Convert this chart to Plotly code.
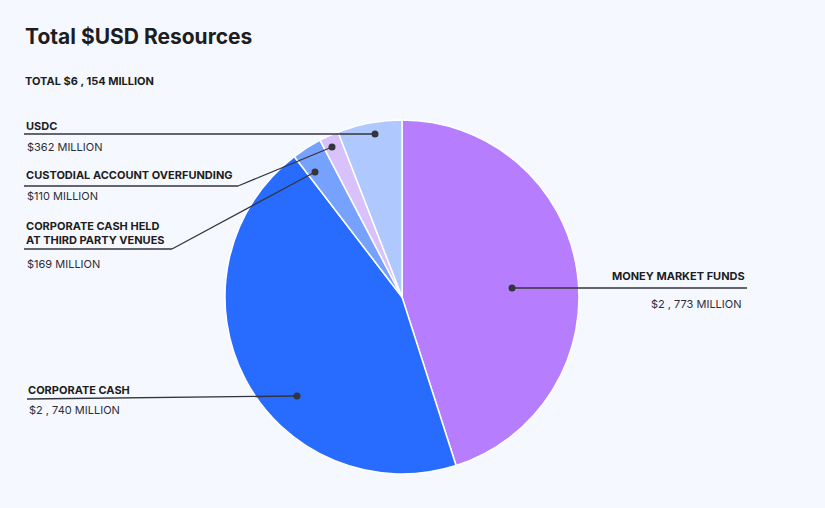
import plotly.graph_objects as go

# data (USD millions)
labels = ["Money Market Funds", "Corporate Cash", "Corporate Cash Held at Third Party Venues",
          "Custodial Account Overfunding", "USDC"]
values = [2773, 2740, 169, 110, 362]
colors = ["#b67dff", "#276bff", "#76a1fc", "#d9c2fb", "#afc8fd"]
label_text = ["MONEY MARKET FUNDS", "CORPORATE CASH", "CORPORATE CASH HELD<br>AT THIRD PARTY VENUES",
              "CUSTODIAL ACCOUNT OVERFUNDING", "USDC"]

W, H = 825, 508
BG = "#f5f8ff"
INK = "#1d1d22"
LINE = "#34343c"
FONT = "Inter, Noto Sans, sans-serif"


def px(x, y):
    # pixel -> paper coords (margins are zero)
    return x / W, 1 - y / H


def money(v):
    # the source spaces out the thousands comma
    return f"{v:,}".replace(",", " , ")


total = sum(values)

fig = go.Figure(go.Pie(
    labels=labels,
    values=values,
    sort=False,
    direction="clockwise",
    rotation=0,
    textinfo="none",
    hoverinfo="label+value+percent",
    marker=dict(colors=colors, line=dict(color="white", width=1.5)),
    domain=dict(x=[225 / W, 579 / W], y=[1 - 474 / H, 1 - 120 / H]),
    showlegend=False,
))

# leader line paths (pixels): label side -> dot on slice
leaders = {
    "USDC": [(24, 134), (375, 134)],
    "Custodial Account Overfunding": [(24, 186), (238, 186), (332, 147)],
    "Corporate Cash Held at Third Party Venues": [(24, 249), (172, 249), (315, 172)],
    "Corporate Cash": [(27, 399), (297, 396)],
    "Money Market Funds": [(747, 288), (512, 288)],
}

shapes = []
for name, pts in leaders.items():
    for (x0, y0), (x1, y1) in zip(pts[:-1], pts[1:]):
        a, b = px(x0, y0)
        c, d = px(x1, y1)
        shapes.append(dict(type="line", xref="paper", yref="paper", x0=a, y0=b, x1=c, y1=d,
                           line=dict(color=LINE, width=1.3)))
    dx, dy = pts[-1]
    r = 3.5
    a, b = px(dx - r, dy + r)
    c, d = px(dx + r, dy - r)
    shapes.append(dict(type="circle", xref="paper", yref="paper", x0=a, y0=b, x1=c, y1=d,
                       fillcolor=LINE, line=dict(color=LINE, width=0)))

# label positions: (name x, name y, value y, anchor)
label_pos = {
    "USDC": (24, 126, 147, "left"),
    "Custodial Account Overfunding": (24, 175, 196, "left"),
    "Corporate Cash Held at Third Party Venues": (24, 233, 264, "left"),
    "Corporate Cash": (26, 390, 410, "left"),
    "Money Market Funds": (747, 276, 304, "right"),
}

annotations = []
for lab, txt, val in zip(labels, label_text, values):
    x, ty, vy, anchor = label_pos[lab]
    xa, ya = px(x, ty)
    annotations.append(dict(text=f"<b>{txt}</b>", x=xa, y=ya, xref="paper", yref="paper",
                            xanchor=anchor, yanchor="middle", showarrow=False, align=anchor,
                            font=dict(family=FONT, size=11, color=INK)))
    vx = x - 4 if anchor == "right" else x + 1
    xa, ya = px(vx, vy)
    annotations.append(dict(text=f"${money(val)} MILLION", x=xa, y=ya, xref="paper", yref="paper",
                            xanchor=anchor, yanchor="middle", showarrow=False,
                            font=dict(family=FONT, size=11, color="#2e2e36")))

xa, ya = px(23, 37)
annotations.append(dict(text="<b>Total $USD Resources</b>", x=xa, y=ya, xref="paper", yref="paper",
                        xanchor="left", yanchor="middle", showarrow=False,
                        font=dict(family=FONT, size=21, color=INK)))
xa, ya = px(23, 81)
annotations.append(dict(text=f"<b>TOTAL ${money(total)} MILLION</b>", x=xa, y=ya, xref="paper", yref="paper",
                        xanchor="left", yanchor="middle", showarrow=False,
                        font=dict(family=FONT, size=11, color=INK)))

fig.update_layout(
    width=W, height=H,
    margin=dict(l=0, r=0, t=0, b=0),
    paper_bgcolor=BG,
    plot_bgcolor=BG,
    shapes=shapes,
    annotations=annotations,
)

fig.write_html("out.html", config=dict(displayModeBar=False),
               post_script="document.body.style.margin='0';document.body.style.background='%s';" % BG)
